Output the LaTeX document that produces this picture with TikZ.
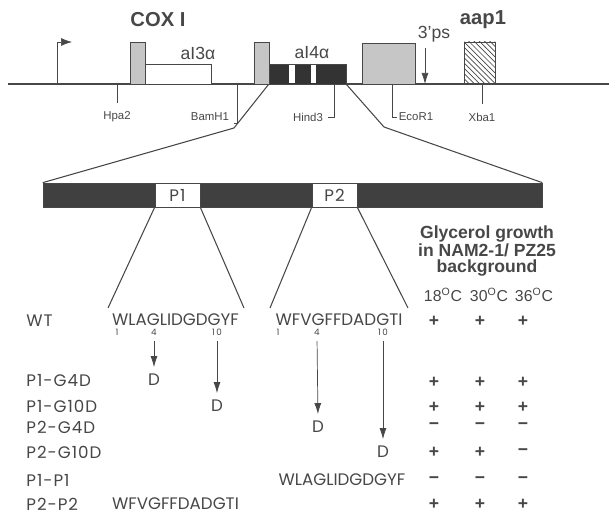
\documentclass[tikz,border=0pt]{standalone}
\usepackage{fontspec}
\setmainfont{Liberation Sans}
\newfontfamily\seqfont{Poppins}
\newfontfamily\rowfont[LetterSpace=6]{Poppins}
\usetikzlibrary{positioning,arrows.meta,patterns}
\colorlet{ink}{black!72}
\tikzset{
  mutarrow/.style={-{Latex[length=2.2mm,width=1.4mm]}, ink, thin},
  tssarrow/.style={-{Latex[length=2.2mm,width=1.6mm]}, ink, thin},
  expline/.style={ink, line width=0.6pt},
  sitetick/.style={ink, thin},
  exonbox/.style={draw=ink, fill=gray!45, line width=0.5pt},
  intronbox/.style={draw=ink, fill=white, line width=0.5pt},
  darkbox/.style={draw=ink, fill=black!80, inner sep=0pt, line width=0.5pt},
  barbox/.style={draw=ink, fill=black!75, inner sep=0pt, minimum height=0.48cm},
  pbox/.style={draw=ink, fill=white, inner sep=0pt, minimum width=0.9cm, minimum height=0.48cm, font=\rowfont\fontsize{9.5}{11}\selectfont},
  genelabel/.style={font=\bfseries\fontsize{11.5}{13}\selectfont},
  intronlabel/.style={font=\fontsize{10}{12}\selectfont},
  sitelabel/.style={font=\fontsize{6.5}{8}\selectfont, inner sep=1pt},
  seqlabel/.style={font=\seqfont\fontsize{9.5}{11}\selectfont, inner sep=1pt},
  poslabel/.style={font=\seqfont\fontsize{5}{6}\selectfont, inner sep=1pt},
  rowlabel/.style={font=\rowfont\fontsize{9.5}{11}\selectfont, anchor=west, inner sep=0pt},
  growth/.style={font=\bfseries\fontsize{10}{12}\selectfont},
  templabel/.style={font=\fontsize{9}{11}\selectfont, inner sep=1pt}
}

\begin{document}
\begin{tikzpicture}[x=0.02cm, y=-0.02cm, every node/.style={text=ink}]
  \useasboundingbox (0,0) rectangle (609,516);
  \draw[ink, line width=0.6pt] (8,84) -- (609,84);
  \coordinate (tss) at (57,84);
  \draw[tssarrow] (tss) |- ++(15,-42);
  \node[genelabel] (cox) at (158,20) {COX I};
  \node[genelabel] (aap) at (483,20) {aap1};
  \draw[exonbox] (130,42) rectangle (145,84);
  \draw[intronbox] (145,64) rectangle (211,84);
  \node[intronlabel] (ai3lab) at (198,53) {aI3α};
  \draw[exonbox] (254,42) rectangle (269,84);
  \node[darkbox, minimum width=1.54cm, minimum height=0.4cm] (ai4) at (307.5,74) {};
  \fill[white] (289,65) rectangle (295,83);
  \fill[white] (311,65) rectangle (316,83);
  \node[intronlabel] (ai4lab) at (312,53) {aI4α};
  \draw[exonbox] (362,43) rectangle (415,84);
  \draw[ink, line width=0.5pt, pattern=north west lines, pattern color=ink] (464,42) rectangle (495,84);
  \node[intronlabel] (pslab) at (434,34) {3'ps};
  \coordinate (psend) at (425,84);
  \draw[mutarrow] (pslab.south -| psend) -- (psend);
  \node[sitelabel] (hpa) at (117,117) {Hpa2};
  \node[sitelabel] (bam) at (210,117) {BamH1};
  \node[sitelabel] (hind) at (308,117) {Hind3};
  \node[sitelabel] (eco) at (416,117) {EcoR1};
  \node[sitelabel] (xba) at (482,117) {Xba1};
  \coordinate (shpa) at (117,84);
  \coordinate (sbam) at (237,84);
  \coordinate (shind) at (334,84);
  \coordinate (seco) at (392,84);
  \coordinate (sxba) at (482,84);
  \draw[sitetick, shorten >=0.14cm] (shpa) -- (hpa.north);
  \draw[sitetick] (sbam) |- ([xshift=0.06cm]bam.south east);
  \draw[sitetick] (shind) |- ([xshift=0.06cm]hind.east);
  \draw[sitetick] (seco) |- (eco.west);
  \draw[sitetick, shorten >=0.14cm] (sxba) -- (xba.north);
  \node[barbox, minimum width=9.98cm] (domain) at (292.5,195) {};
  \node[pbox] (p1) at (177.5,195) {P1};
  \node[pbox] (p2) at (334.5,195) {P2};
  \coordinate (bendl) at (234,128);
  \coordinate (bendr) at (384,127);
  \draw[expline] (ai4.south west) -- (bendl) -- (domain.north west);
  \draw[expline] (ai4.south east) -- (bendr) -- (domain.north east);
  \coordinate (p1l) at (108,308);
  \coordinate (p1r) at (244,308);
  \coordinate (p2l) at (270,308);
  \coordinate (p2r) at (408,308);
  \draw[expline] (p1.south west) -- (p1l);
  \draw[expline] (p1.south east) -- (p1r);
  \draw[expline] (p2.south west) -- (p2l);
  \draw[expline] (p2.south east) -- (p2r);
  \node[growth, align=center] (glyc) at (487,251) {Glycerol growth\\[-2pt] in NAM2-1/ PZ25\\[-3pt] background};
  \node[templabel] (t18) at (443,295) {18\textsuperscript{O}C};
  \node[templabel] (t30) at (489,295) {30\textsuperscript{O}C};
  \node[templabel] (t36) at (534,295) {36\textsuperscript{O}C};
  \node[rowlabel] (wt) at (26,321) {WT};
  \node[seqlabel] (seqa) at (175.5,320) {WLAGLIDGDGYF};
  \node[seqlabel] (seqb) at (339,320) {WFVGFFDADGTI};
  \node[poslabel] (a1) at (117,332) {1};
  \node[poslabel] (a4) at (154,332) {4};
  \node[poslabel] (a10) at (217,332) {1\,0};
  \node[poslabel] (b1) at (278,332) {1};
  \node[poslabel] (b4) at (317,332) {4};
  \node[poslabel] (b10) at (383,332) {1\,0};
  \node[rowlabel] (r1) at (26,381) {P1-G4D};
  \node[rowlabel] (r2) at (26,406) {P1-G10D};
  \node[rowlabel] (r3) at (26,427) {P2-G4D};
  \node[rowlabel] (r4) at (26,452) {P2-G10D};
  \node[rowlabel] (r5) at (26,480) {P1-P1};
  \node[rowlabel] (r6) at (26,504) {P2-P2};
  \node[seqlabel] (d1) at (154,380) {D};
  \node[seqlabel] (d2) at (217,406) {D};
  \node[seqlabel] (d3) at (318,427) {D};
  \node[seqlabel] (d4) at (383,452) {D};
  \node[seqlabel] (seqc) at (342,480) {WLAGLIDGDGYF};
  \node[seqlabel] (seqd) at (175.5,504) {WFVGFFDADGTI};
  \draw[mutarrow, shorten <=0.08cm, shorten >=0.1cm] (a4.south) -- (d1.north);
  \draw[mutarrow, shorten <=0.08cm, shorten >=0.1cm] (a10.south) -- (d2.north);
  \draw[mutarrow, shorten <=0.08cm, shorten >=0.1cm] (b4.south) -- (d3.north);
  \draw[mutarrow, shorten <=0.08cm, shorten >=0.1cm] (b10.south) -- (d4.north);
  \node[growth] (g0a) at (434,321) {+}; \node[growth] (g0b) at (480,321) {+}; \node[growth] (g0c) at (523,321) {+};
  \node[growth] (g1a) at (434,382) {+}; \node[growth] (g1b) at (480,382) {+}; \node[growth] (g1c) at (523,382) {+};
  \node[growth] (g2a) at (434,407) {+}; \node[growth] (g2b) at (480,407) {+}; \node[growth] (g2c) at (523,407) {+};
  \node[growth] (g3a) at (434,426) {−}; \node[growth] (g3b) at (480,426) {−}; \node[growth] (g3c) at (523,426) {−};
  \node[growth] (g4a) at (434,452) {+}; \node[growth] (g4b) at (480,452) {+}; \node[growth] (g4c) at (523,452) {−};
  \node[growth] (g5a) at (434,480) {−}; \node[growth] (g5b) at (480,480) {−}; \node[growth] (g5c) at (523,480) {−};
  \node[growth] (g6a) at (434,504) {+}; \node[growth] (g6b) at (480,504) {+}; \node[growth] (g6c) at (523,504) {+};
\end{tikzpicture}
\end{document}
